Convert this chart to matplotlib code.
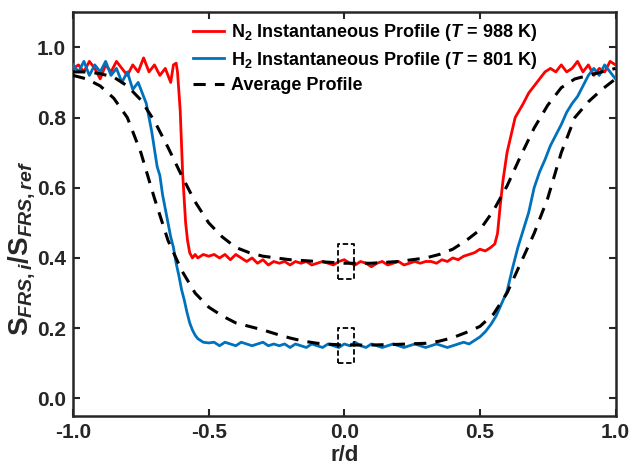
import matplotlib
matplotlib.use("Agg")
import matplotlib.pyplot as plt

plt.rcParams['font.family'] = ['Liberation Sans', 'DejaVu Sans']
plt.rcParams['font.weight'] = 'bold'
plt.rcParams['mathtext.fontset'] = 'custom'
plt.rcParams['mathtext.rm'] = 'Liberation Sans:bold'
plt.rcParams['mathtext.it'] = 'Liberation Sans:bold:italic'
plt.rcParams['mathtext.bf'] = 'Liberation Sans:bold'

# ---------------- data ----------------
n2_x = [-1.00, -0.98, -0.96, -0.94, -0.92, -0.90, -0.88, -0.86, -0.84, -0.82,
        -0.80, -0.78, -0.76, -0.74, -0.72, -0.70, -0.68, -0.66, -0.64, -0.63,
        -0.62, -0.615, -0.605, -0.596, -0.585, -0.578, -0.57, -0.56, -0.55, -0.54,
        -0.52, -0.50, -0.48, -0.46, -0.44, -0.42, -0.40, -0.38, -0.36, -0.34,
        -0.32, -0.30, -0.28, -0.26, -0.24, -0.22, -0.20, -0.18, -0.16, -0.14,
        -0.12, -0.10, -0.08, -0.06, -0.04, -0.02, 0.00, 0.02, 0.04, 0.06,
        0.08, 0.10, 0.12, 0.14, 0.16, 0.18, 0.20, 0.22, 0.24, 0.26,
        0.28, 0.30, 0.32, 0.34, 0.36, 0.38, 0.40, 0.42, 0.44, 0.46,
        0.48, 0.50, 0.52, 0.54, 0.555, 0.565, 0.575, 0.585, 0.60, 0.615,
        0.63, 0.645, 0.66, 0.68, 0.70, 0.72, 0.74, 0.76, 0.78, 0.80,
        0.82, 0.84, 0.86, 0.88, 0.90, 0.92, 0.94, 0.96, 0.98, 1.00]
n2_y = [0.94, 0.95, 0.93, 0.96, 0.94, 0.91, 0.95, 0.93, 0.96, 0.94,
        0.92, 0.95, 0.93, 0.97, 0.93, 0.95, 0.92, 0.94, 0.90, 0.95,
        0.955, 0.93, 0.82, 0.64, 0.50, 0.45, 0.415, 0.40, 0.41, 0.40,
        0.41, 0.405, 0.41, 0.40, 0.41, 0.395, 0.41, 0.40, 0.39, 0.40,
        0.385, 0.395, 0.38, 0.39, 0.385, 0.39, 0.38, 0.39, 0.385, 0.39,
        0.38, 0.385, 0.39, 0.385, 0.38, 0.39, 0.395, 0.385, 0.38, 0.39,
        0.385, 0.375, 0.385, 0.39, 0.38, 0.385, 0.39, 0.38, 0.385, 0.39,
        0.385, 0.39, 0.39, 0.385, 0.395, 0.39, 0.40, 0.395, 0.405, 0.41,
        0.415, 0.425, 0.42, 0.43, 0.44, 0.47, 0.55, 0.62, 0.70, 0.75,
        0.80, 0.82, 0.84, 0.87, 0.89, 0.91, 0.93, 0.94, 0.93, 0.95,
        0.93, 0.94, 0.96, 0.93, 0.95, 0.92, 0.94, 0.93, 0.96, 0.95]

h2_x = [-1.00, -0.98, -0.96, -0.94, -0.92, -0.90, -0.88, -0.86, -0.84, -0.82,
        -0.80, -0.78, -0.76, -0.74, -0.73, -0.72, -0.71, -0.70, -0.69, -0.68,
        -0.67, -0.66, -0.65, -0.64, -0.63, -0.62, -0.61, -0.60, -0.59, -0.58,
        -0.57, -0.56, -0.55, -0.54, -0.52, -0.50, -0.48, -0.46, -0.44, -0.42,
        -0.40, -0.38, -0.36, -0.34, -0.32, -0.30, -0.28, -0.26, -0.24, -0.22,
        -0.20, -0.18, -0.16, -0.14, -0.12, -0.10, -0.08, -0.06, -0.04, -0.02,
        0.00, 0.02, 0.04, 0.06, 0.08, 0.10, 0.12, 0.14, 0.16, 0.18,
        0.20, 0.22, 0.24, 0.26, 0.28, 0.30, 0.32, 0.34, 0.36, 0.38,
        0.40, 0.42, 0.44, 0.46, 0.48, 0.50, 0.52, 0.54, 0.56, 0.58,
        0.60, 0.62, 0.64, 0.66, 0.68, 0.70, 0.72, 0.74, 0.76, 0.78,
        0.80, 0.82, 0.84, 0.86, 0.88, 0.90, 0.92, 0.94, 0.96, 0.98, 1.00]
h2_y = [0.95, 0.93, 0.96, 0.92, 0.95, 0.93, 0.96, 0.92, 0.94, 0.90,
        0.93, 0.88, 0.90, 0.86, 0.84, 0.80, 0.76, 0.71, 0.66, 0.635,
        0.58, 0.54, 0.50, 0.46, 0.43, 0.385, 0.35, 0.31, 0.28, 0.245,
        0.215, 0.195, 0.18, 0.17, 0.16, 0.158, 0.16, 0.15, 0.16, 0.155,
        0.15, 0.16, 0.155, 0.15, 0.155, 0.16, 0.15, 0.155, 0.15, 0.155,
        0.145, 0.155, 0.15, 0.145, 0.155, 0.15, 0.145, 0.155, 0.15, 0.145,
        0.155, 0.15, 0.16, 0.15, 0.145, 0.155, 0.15, 0.145, 0.15, 0.155,
        0.15, 0.145, 0.15, 0.155, 0.15, 0.145, 0.15, 0.155, 0.15, 0.145,
        0.15, 0.155, 0.16, 0.155, 0.165, 0.175, 0.19, 0.21, 0.235, 0.27,
        0.305, 0.37, 0.43, 0.48, 0.53, 0.60, 0.645, 0.68, 0.72, 0.75,
        0.78, 0.815, 0.84, 0.86, 0.89, 0.92, 0.94, 0.92, 0.95, 0.93, 0.91]

avg_n2_x = [-1.00, -0.95, -0.90, -0.85, -0.80, -0.75, -0.70, -0.65, -0.60, -0.55,
            -0.50, -0.45, -0.40, -0.35, -0.30, -0.20, -0.10, 0.00, 0.10, 0.20,
            0.30, 0.35, 0.40, 0.45, 0.50, 0.55, 0.60, 0.65, 0.70, 0.75,
            0.80, 0.85, 0.90, 0.95, 1.00]
avg_n2_y = [0.93, 0.93, 0.925, 0.915, 0.89, 0.85, 0.79, 0.715, 0.635, 0.56,
            0.50, 0.46, 0.43, 0.415, 0.405, 0.395, 0.39, 0.385, 0.385, 0.39,
            0.40, 0.41, 0.425, 0.45, 0.48, 0.535, 0.605, 0.69, 0.77, 0.835,
            0.885, 0.91, 0.92, 0.93, 0.94]

avg_h2_x = [-1.00, -0.95, -0.90, -0.85, -0.80, -0.75, -0.70, -0.65, -0.60, -0.55,
            -0.50, -0.45, -0.40, -0.35, -0.30, -0.25, -0.20, -0.15, -0.10, -0.05,
            0.00, 0.10, 0.20, 0.30, 0.35, 0.40, 0.45, 0.50, 0.55, 0.60,
            0.65, 0.70, 0.75, 0.80, 0.85, 0.90, 0.95, 1.00]
avg_h2_y = [0.92, 0.91, 0.89, 0.855, 0.80, 0.70, 0.57, 0.45, 0.365, 0.30,
            0.26, 0.235, 0.215, 0.205, 0.195, 0.183, 0.172, 0.163, 0.157, 0.154,
            0.152, 0.152, 0.154, 0.157, 0.163, 0.173, 0.188, 0.205, 0.24, 0.30,
            0.385, 0.47, 0.57, 0.70, 0.80, 0.845, 0.88, 0.91]

box_x = [-0.025, 0.035]
box_upper_y = [0.34, 0.44]
box_lower_y = [0.10, 0.20]

labels = [r'N$_2$ Instantaneous Profile ($T$ = 988 K)',
          r'H$_2$ Instantaneous Profile ($T$ = 801 K)',
          'Average Profile']

# ---------------- figure ----------------
fig = plt.figure(figsize=(6.3, 4.7), dpi=100)
ax = fig.add_axes([0.116, 0.115, 0.861, 0.859])

ax.plot(n2_x, n2_y, color='#ff0000', lw=2.0, label=labels[0], zorder=3)
ax.plot(h2_x, h2_y, color='#0072bd', lw=2.0, label=labels[1], zorder=3)
ax.plot(avg_n2_x, avg_n2_y, color='black', lw=2.2, ls=(0, (4, 3)), label=labels[2], zorder=4)
ax.plot(avg_h2_x, avg_h2_y, color='black', lw=2.2, ls=(0, (4, 3)), zorder=4)

for by in (box_upper_y, box_lower_y):
    ax.plot([box_x[0], box_x[1], box_x[1], box_x[0], box_x[0]],
            [by[0], by[0], by[1], by[1], by[0]],
            color='black', lw=1.3, ls=(0, (3, 1.5)), zorder=5)

ax.set_xlim(-1.0, 1.0)
ax.set_ylim(-0.05, 1.1)
ax.set_xticks([-1.0, -0.5, 0.0, 0.5, 1.0])
ax.set_yticks([0.0, 0.2, 0.4, 0.6, 0.8, 1.0])
ax.set_xticklabels(['-1.0', '-0.5', '0.0', '0.5', '1.0'])
ax.set_yticklabels(['0.0', '0.2', '0.4', '0.6', '0.8', '1.0'])

ax.tick_params(direction='in', top=True, right=True, length=5, width=1.5,
               labelsize=15, colors='#262626', pad=5)
for lab in ax.get_xticklabels() + ax.get_yticklabels():
    lab.set_fontweight('bold')
for s in ax.spines.values():
    s.set_linewidth(1.8)
    s.set_color('#262626')

ax.set_xlabel('r/d', fontsize=16, fontweight='bold', color='#262626', labelpad=2)
ax.set_ylabel(r'$\mathrm{S}_{FRS,i}/\mathrm{S}_{FRS,ref}$', fontsize=20,
              color='#262626')
ax.yaxis.set_label_coords(-0.066, 0.415)

leg = ax.legend(loc='upper left', bbox_to_anchor=(0.222, 0.975), frameon=False,
                fontsize=13, handlelength=1.7, handletextpad=0.4,
                labelspacing=0.35, borderpad=0, borderaxespad=0)
for t in leg.get_texts():
    t.set_fontweight('bold')

fig.savefig('out.png', dpi=100)
